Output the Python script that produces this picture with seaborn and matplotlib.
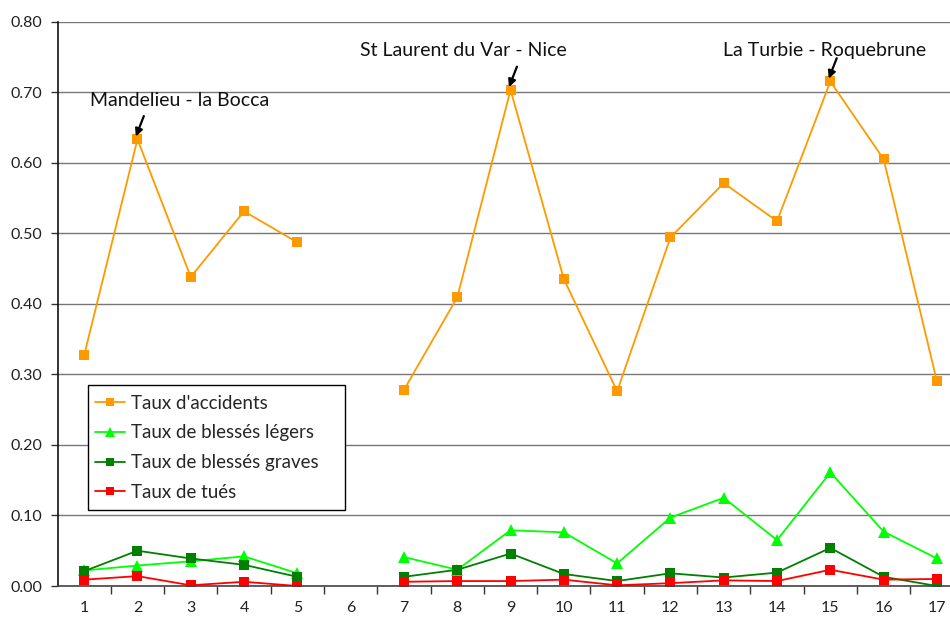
import numpy as np
import pandas as pd
import matplotlib
matplotlib.use("Agg")
import matplotlib.pyplot as plt
from matplotlib.patches import Rectangle
import seaborn as sns

sections = list(range(1, 18))
accidents = [0.327, 0.633, 0.438, 0.531, 0.487, np.nan, 0.278, 0.409, 0.703,
             0.435, 0.276, 0.494, 0.571, 0.517, 0.715, 0.605, 0.290]
legers = [0.022, 0.029, 0.035, 0.042, 0.018, np.nan, 0.041, 0.023, 0.079,
          0.076, 0.032, 0.097, 0.125, 0.065, 0.161, 0.077, 0.039]
graves = [0.021, 0.050, 0.039, 0.030, 0.013, np.nan, 0.013, 0.023, 0.046,
          0.017, 0.007, 0.018, 0.012, 0.019, 0.054, 0.013, 0.000]
tues = [0.009, 0.014, 0.001, 0.006, 0.000, np.nan, 0.006, 0.007, 0.007,
        0.009, 0.001, 0.004, 0.008, 0.007, 0.023, 0.009, 0.010]

series_names = ["Taux d'accidents", "Taux de blessés légers",
                "Taux de blessés graves", "Taux de tués"]
series_values = [accidents, legers, graves, tues]
colors = ["#FF9900", "#00FF00", "#008000", "#FF0000"]
markers = ["s", "^", "s", "s"]

annot_texts = ["Mandelieu - la Bocca", "St Laurent du Var - Nice", "La Turbie - Roquebrune"]
annot_x = [2, 9, 15]
yticks = [0.0, 0.1, 0.2, 0.3, 0.4, 0.5, 0.6, 0.7, 0.8]

sns.set_theme(style="white")
plt.rcParams['font.family'] = ['Lato', 'DejaVu Sans']

fig = plt.figure(figsize=(9.5, 6.21), dpi=100)
ax = fig.add_axes([57.5 / 950, 1 - 586 / 621, 1 - 57.5 / 950, (586 - 21.5) / 621])

for name, vals, col, mk in zip(series_names, series_values, colors, markers):
    df = pd.DataFrame({"x": sections, "y": vals})
    df["seg"] = df["y"].isna().cumsum()
    df = df.dropna()
    first = True
    for s, sub in df.groupby("seg"):
        sns.lineplot(data=sub, x="x", y="y", ax=ax, color=col, marker=mk,
                     markersize=7 if mk == "s" else 8, markeredgewidth=0,
                     linewidth=1.3, label=name if first else None, legend=False)
        first = False

ax.set_xlim(0.5, 17.245)
ax.set_ylim(0, 0.8)
ax.set_yticks(yticks)
ax.set_yticklabels([f"{v:.2f}" for v in yticks])
ax.set_xticks(sections)
ax.set_xticklabels([str(s) for s in sections])
ax.set_xticks(np.arange(1.5, 17.5, 1), minor=True)
ax.tick_params(axis="x", which="major", length=0, pad=11, labelsize=11.5, colors="#222222")
ax.tick_params(axis="x", which="minor", length=6, width=1, direction="out", color="#333333", bottom=True)
ax.tick_params(axis="y", which="major", length=5, width=1, direction="out", color="#333333",
               left=True, labelsize=11.5, colors="#222222", pad=6)
ax.set_xlabel("")
ax.set_ylabel("")
ax.yaxis.grid(True, color="#777777", linewidth=1)
ax.set_axisbelow(True)
for sp in ["top", "right"]:
    ax.spines[sp].set_visible(False)
ax.spines["left"].set_color("#111111")
ax.spines["bottom"].set_color("#444444")
ax.spines["left"].set_linewidth(1.2)
ax.spines["bottom"].set_linewidth(1.2)

# text positions relative to the annotated point (data units)
text_dx = [0.80, -0.89, -0.10]
text_dy = [0.055, 0.056, 0.044]
for text, xi, dx, dy in zip(annot_texts, annot_x, text_dx, text_dy):
    yi = accidents[xi - 1]
    ax.text(xi + dx, yi + dy, text, ha="center", va="center", fontsize=14, color="#111111")
    ax.annotate("", xy=(xi - 0.03, yi + 0.004), xytext=(xi + 0.12, yi + 0.033),
                arrowprops=dict(arrowstyle="-|>", color="black", lw=1.6,
                                mutation_scale=11, shrinkA=0, shrinkB=0))

# legend box (Excel-style, with extra right padding)
box = Rectangle((88 / 950, 1 - 510 / 621), (345 - 88) / 950, (510 - 385) / 621,
                transform=fig.transFigure, facecolor="white", edgecolor="black",
                linewidth=1.0, zorder=4.5, clip_on=False)
ax.add_patch(box)
leg = ax.legend(loc="upper left", bbox_to_anchor=(89 / 950, 1 - 389 / 621),
                bbox_transform=fig.transFigure, frameon=False,
                fontsize=13.5, handlelength=1.6, handletextpad=0.35,
                borderpad=0.3, labelspacing=0.68, borderaxespad=0, markerscale=0.85)
leg.set_zorder(5)

fig.savefig("out.png", dpi=100)
